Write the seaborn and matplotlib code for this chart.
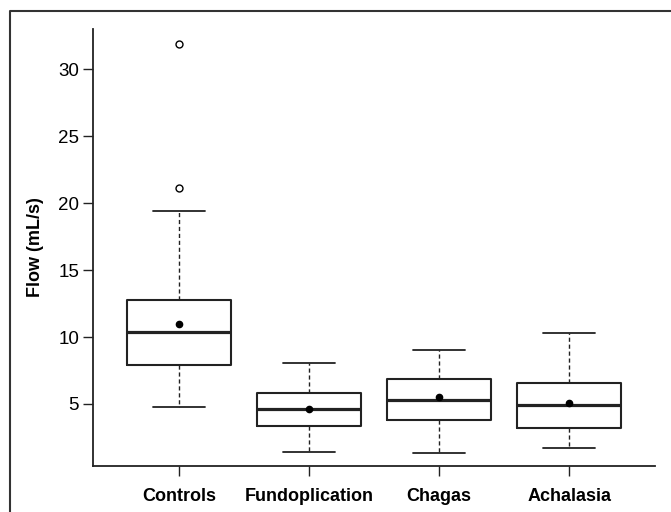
import matplotlib
matplotlib.use("Agg")
import matplotlib.pyplot as plt
import seaborn as sns
from matplotlib.lines import Line2D

# summary values
groups = ["Controls", "Fundoplication", "Chagas", "Achalasia"]
q1 = [7.9, 3.33, 3.78, 3.2]
medians = [10.35, 4.6, 5.32, 4.9]
q3 = [12.76, 5.84, 6.89, 6.57]
whisk_lo = [4.78, 1.4, 1.37, 1.72]
whisk_hi = [19.4, 8.04, 9.0, 10.32]
means = [10.95, 4.65, 5.5, 5.05]
outliers = [[21.1, 31.9], [], [], []]

sns.set_theme(style="ticks")
plt.rcParams['font.family'] = ['Liberation Sans', 'DejaVu Sans']
plt.rcParams['text.color'] = 'black'
plt.rcParams['xtick.labelcolor'] = 'black'
plt.rcParams['ytick.labelcolor'] = 'black'

fig = plt.figure(figsize=(6.71, 5.12), dpi=100)
ax = fig.add_axes([93 / 671, 1 - 466 / 512, (655 - 93) / 671, (466 - 29) / 512])

stats = []
for i, g in enumerate(groups):
    stats.append({"label": g, "q1": q1[i], "med": medians[i], "q3": q3[i],
                  "whislo": whisk_lo[i], "whishi": whisk_hi[i],
                  "mean": means[i], "fliers": outliers[i]})

ax.bxp(stats, positions=range(1, len(groups) + 1), widths=0.8, capwidths=0.4,
       showmeans=True, patch_artist=False,
       boxprops=dict(color="#222222", lw=1.5),
       medianprops=dict(color="#222222", lw=2.3),
       whiskerprops=dict(color="#222222", lw=1.0, linestyle=(0, (3, 2))),
       capprops=dict(color="#222222", lw=1.3),
       meanprops=dict(marker="o", markerfacecolor="black", markeredgecolor="black", markersize=4.5),
       flierprops=dict(marker="o", markerfacecolor="white", markeredgecolor="black",
                       markersize=5, markeredgewidth=1.0))

ax.set_xlim(0.34, 4.66)
ax.set_ylim(0.37, 33.0)
ax.set_yticks([5, 10, 15, 20, 25, 30])
ax.set_xticklabels(groups, fontsize=13, fontweight="bold")
ax.tick_params(axis="y", labelsize=13.5, length=7, width=1, color="#222222", pad=3)
ax.tick_params(axis="x", length=7, width=1, color="#222222", pad=9)
ax.set_ylabel("Flow (mL/s)", fontsize=13, fontweight="bold", labelpad=10, color="black")
sns.despine(ax=ax)
for s in ["left", "bottom"]:
    ax.spines[s].set_linewidth(1.3)
    ax.spines[s].set_color("#222222")

# outer frame (left and top edges)
fig.add_artist(Line2D([10 / 671, 10 / 671, 1], [0, 1 - 11 / 512, 1 - 11 / 512],
                      transform=fig.transFigure, color="#333333", lw=1.5))

fig.savefig("out.png", dpi=100)
